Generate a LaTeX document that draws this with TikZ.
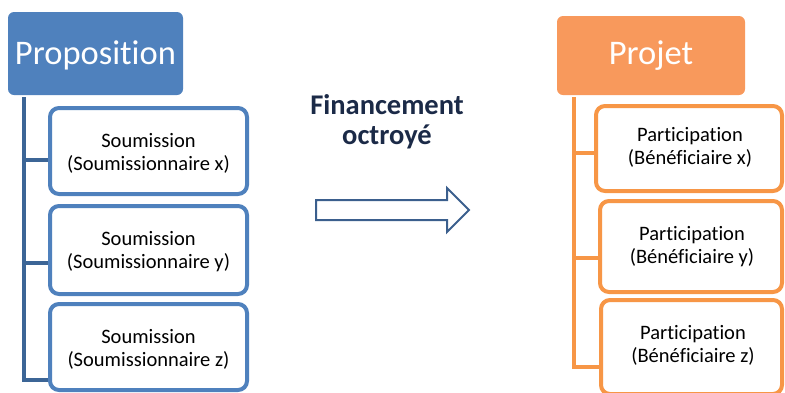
\documentclass[tikz,border=0pt]{standalone}
\usepackage{fontspec}
\setmainfont{Carlito}[Ligatures={NoCommon}]
\definecolor{pblue}{HTML}{4F81BD}
\definecolor{tblue}{HTML}{3C6596}
\definecolor{porange}{HTML}{F8995C}
\definecolor{torange}{HTML}{F79646}
\definecolor{navy}{HTML}{1B2A47}
\definecolor{arrowblue}{HTML}{3B5F8D}
\begin{document}
\begin{tikzpicture}[x=1pt,y=-1pt,
  headbox/.style={rounded corners=6pt,draw=none},
  subbox/.style={rounded corners=9pt,line width=4pt,fill=white},
  trunk/.style={line width=4pt},
  lbl/.style={font=\fontsize{20.5}{23}\selectfont,align=center,text=black},
  headlbl/.style={font=\fontsize{34.5}{38}\selectfont,text=white}]
\useasboundingbox (0,0) rectangle (785,392);
% Left tree
\fill[headbox,fill=pblue] (8,12) rectangle (183,95);
\node[headlbl] (prop) at (95.5,55) {Proposition};
\coordinate (lt) at (24,97);
\coordinate (lb) at (24,380);
\draw[trunk,draw=tblue] (lt) -- (lb) -- (50,380);
\draw[trunk,draw=tblue] (24,160) -- (50,160);
\draw[trunk,draw=tblue] (24,263) -- (50,263);
\draw[subbox,draw=pblue] (50,108) rectangle (247,194);
\draw[subbox,draw=pblue] (50,206) rectangle (247,294);
\draw[subbox,draw=pblue] (50,304) rectangle (247,390);
\node[lbl] (s1) at (148.5,153) {Soumission\\(Soumissionnaire x)};
\node[lbl] (s2) at (148.5,252) {Soumission\\(Soumissionnaire y)};
\node[lbl] (s3) at (148.5,349) {Soumission\\(Soumissionnaire z)};
% Middle
\node[font=\bfseries\fontsize{28.5}{30}\selectfont,text=navy,align=center] (fin) at (387,122) {Financement\\octroyé};
\draw[line width=2pt,draw=arrowblue,line join=miter]
  (316,200) -- (447,200) -- (447,188) -- (469,210) -- (447,232) -- (447,220) -- (316,220) -- cycle;
% Right tree
\fill[headbox,fill=porange] (557,16) rectangle (745,95);
\node[headlbl] (proj) at (651,56) {Projet};
\coordinate (rt) at (574,97);
\coordinate (rb) at (574,367);
\draw[trunk,draw=torange] (rt) -- (rb) -- (600,367);
\draw[trunk,draw=torange] (574,153) -- (598,153);
\draw[trunk,draw=torange] (574,258) -- (600,258);
\draw[subbox,draw=torange] (596,106) rectangle (782,191);
\draw[subbox,draw=torange] (600,201) rectangle (782,292);
\draw[subbox,draw=torange] (601,300) rectangle (782,394);
\node[lbl] (p1) at (690,147) {Participation\\(Bénéficiaire x)};
\node[lbl] (p2) at (692,247) {Participation\\(Bénéficiaire y)};
\node[lbl] (p3) at (693,345) {Participation\\(Bénéficiaire z)};
\end{tikzpicture}
\end{document}
